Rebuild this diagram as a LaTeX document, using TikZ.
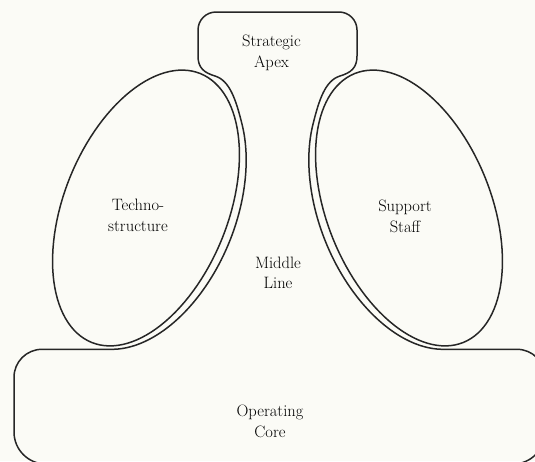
\documentclass[tikz,border=0pt]{standalone}
\definecolor{paper}{RGB}{251,251,246}
\definecolor{ink}{RGB}{38,38,38}
\begin{document}
\begin{tikzpicture}[x=1pt, y=-1pt,
  outline/.style={draw=ink, line width=1.5pt, line join=round},
  txt/.style={font=\rmfamily\fontsize{16.5}{20.5}\selectfont, align=center, inner sep=0pt, text=black}]
\useasboundingbox (0,0) rectangle (535,461);
\clip (0,0) rectangle (535,461);
\fill[paper] (0,0) rectangle (535,461);

% outer outline: strategic apex, middle line, operating core
\draw[outline] (216,12) -- (339,12) .. controls (348.94,12) and (357,20.06) .. (357,30) -- (357,56)
 .. controls (357,68) and (351,72.6) .. (340,76)
 .. controls (325,80.6) and (318.9,100.4) .. (312.9,124.55)
 -- plot[domain=40:166.2, samples=60] ({409-55.44*cos(\x)-83.45*sin(\x)}, {208-137.23*cos(\x)+33.71*sin(\x)})
 -- (517,349.3) .. controls (532.46,349.3) and (545,361.84) .. (545,377.3)
 -- (545,432) .. controls (545,449.67) and (530.67,464) .. (513,464)
 -- (46,464) .. controls (28.33,464) and (14,449.67) .. (14,432)
 -- (14,377.3) .. controls (14,361.84) and (26.54,349.3) .. (42,349.3)
 -- plot[domain=40:166.2, samples=60] ({146+55.44*cos(206.2-\x)+83.45*sin(206.2-\x)}, {208-137.23*cos(206.2-\x)+33.71*sin(206.2-\x)})
 .. controls (236.1,100.4) and (230,80.6) .. (215,76)
 .. controls (204,72.6) and (198,68) .. (198,56)
 -- (198,30) .. controls (198,20.06) and (206.06,12) .. (216,12) -- cycle;

% technostructure ellipse
\draw[outline] plot[domain=0:360, samples=121] ({146+54.32*cos(\x)+76.03*sin(\x)}, {208-134.44*cos(\x)+30.72*sin(\x)}) -- cycle;
% support staff ellipse
\draw[outline] plot[domain=0:360, samples=121] ({409-54.32*cos(\x)-76.03*sin(\x)}, {208-134.44*cos(\x)+30.72*sin(\x)}) -- cycle;

\node[txt] (apex) at (271.5,52.7) {\strut Strategic\\\strut Apex};
\node[txt] (techno) at (138,216.7) {\strut Techno-\\\strut structure};
\node[txt] (support) at (405,217.7) {\strut Support\\\strut Staff};
\node[txt] (middle) at (278,274.3) {\strut Middle\\\strut Line};
\node[txt] (core) at (270,422.7) {\strut Operating\\\strut Core};
\end{tikzpicture}
\end{document}
